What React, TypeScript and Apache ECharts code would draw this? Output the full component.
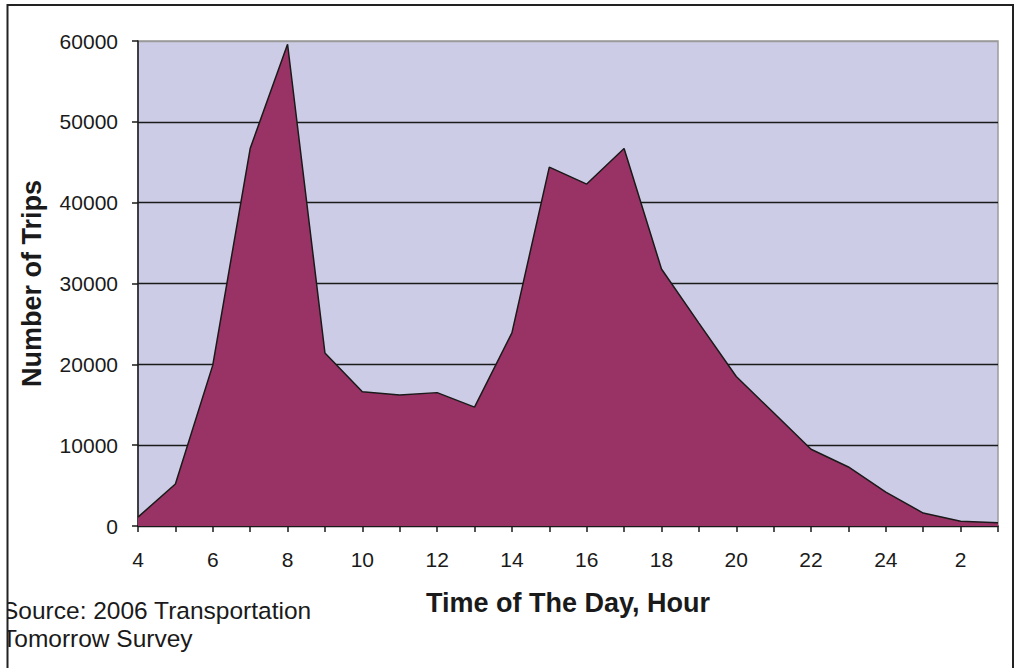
import React, { useEffect, useRef } from "react";
import * as echarts from "echarts";

// hour of day; 24 points from 4 am through 3 am the next day
const categories = ["4","5","6","7","8","9","10","11","12","13","14","15","16","17","18","19","20","21","22","23","24","1","2","3"];
const trips = [1100, 5200, 19900, 46700, 59600, 21400, 16600, 16200, 16500, 14700, 23900, 44400, 42300, 46700, 31800, 25100, 18500, 14000, 9500, 7300, 4200, 1600, 600, 400];
const yTicks = { min: 0, max: 60000, interval: 10000 };
const sourceLines = ["Source: 2006 Transportation", "Tomorrow Survey"];

export default function App() {
  const ref = useRef<HTMLDivElement>(null);
  useEffect(() => {
    document.body.style.margin = "0";
    const chart = echarts.init(ref.current!, null, { renderer: "svg" });
    const font = "'Liberation Sans', Arial, sans-serif";
    chart.setOption({
      animation: false,
      backgroundColor: "#ffffff",
      textStyle: { fontFamily: font },
      grid: {
        left: 138,
        right: 18,
        top: 41,
        bottom: 142,
        show: true,
        backgroundColor: "#CCCCE6",
        borderColor: "#9a9a9a",
        borderWidth: 1.5,
      },
      xAxis: {
        type: "category",
        data: categories,
        boundaryGap: false,
        name: "Time of The Day, Hour",
        nameLocation: "middle",
        nameGap: 63,
        nameTextStyle: { fontSize: 27, fontWeight: "bold", color: "#1a1a1a", fontFamily: font },
        axisLine: { show: true, lineStyle: { color: "#1a1a1a", width: 1.5 } },
        axisTick: { show: true, interval: 0, length: 6, inside: false, lineStyle: { color: "#1a1a1a", width: 1.5 } },
        axisLabel: {
          interval: 1,
          margin: 23,
          fontSize: 21,
          color: "#1a1a1a",
          fontFamily: font,
          formatter: (v: string) => (v === "1" ? "2" : v),
        },
        splitLine: { show: false },
      },
      yAxis: {
        type: "value",
        min: yTicks.min,
        max: yTicks.max,
        interval: yTicks.interval,
        name: "Number of Trips",
        nameLocation: "middle",
        nameGap: 93,
        nameRotate: 90,
        nameTextStyle: { fontSize: 27, fontWeight: "bold", color: "#1a1a1a", fontFamily: font },
        axisLine: { show: true, lineStyle: { color: "#1a1a1a", width: 1.5 } },
        axisTick: { show: true, length: 6, inside: false, lineStyle: { color: "#1a1a1a", width: 1.5 } },
        axisLabel: { margin: 20, fontSize: 21, color: "#1a1a1a", fontFamily: font, formatter: (v: number) => String(v) },
        splitLine: {
          show: true,
          lineStyle: { color: ["#1a1a1a", "#1a1a1a", "#1a1a1a", "#1a1a1a", "#1a1a1a", "#1a1a1a", "#9a9a9a"], width: 1.4 },
        },
      },
      series: [
        {
          type: "line",
          data: trips,
          symbol: "none",
          lineStyle: { color: "#1a1a1a", width: 1.5 },
          areaStyle: { color: "#993366", opacity: 1 },
          z: 3,
        },
      ],
      graphic: [
        {
          type: "text",
          left: 2,
          top: 596,
          style: {
            text: sourceLines.join("\n"),
            fontSize: 24.5,
            lineHeight: 28,
            fill: "#1a1a1a",
            fontFamily: font,
          },
          z: 10,
        },
        {
          type: "rect",
          shape: { x: 0, y: 0, width: 7, height: 668 },
          style: { fill: "#ffffff" },
          z: 11,
        },
        {
          type: "rect",
          shape: { x: 7.5, y: 5, width: 1005.5, height: 700 },
          style: { fill: "none", stroke: "#222222", lineWidth: 2 },
          silent: true,
          z: 12,
        },
      ],
    });
    return () => chart.dispose();
  }, []);
  return <div ref={ref} style={{ width: 1016, height: 668 }} />;
}
